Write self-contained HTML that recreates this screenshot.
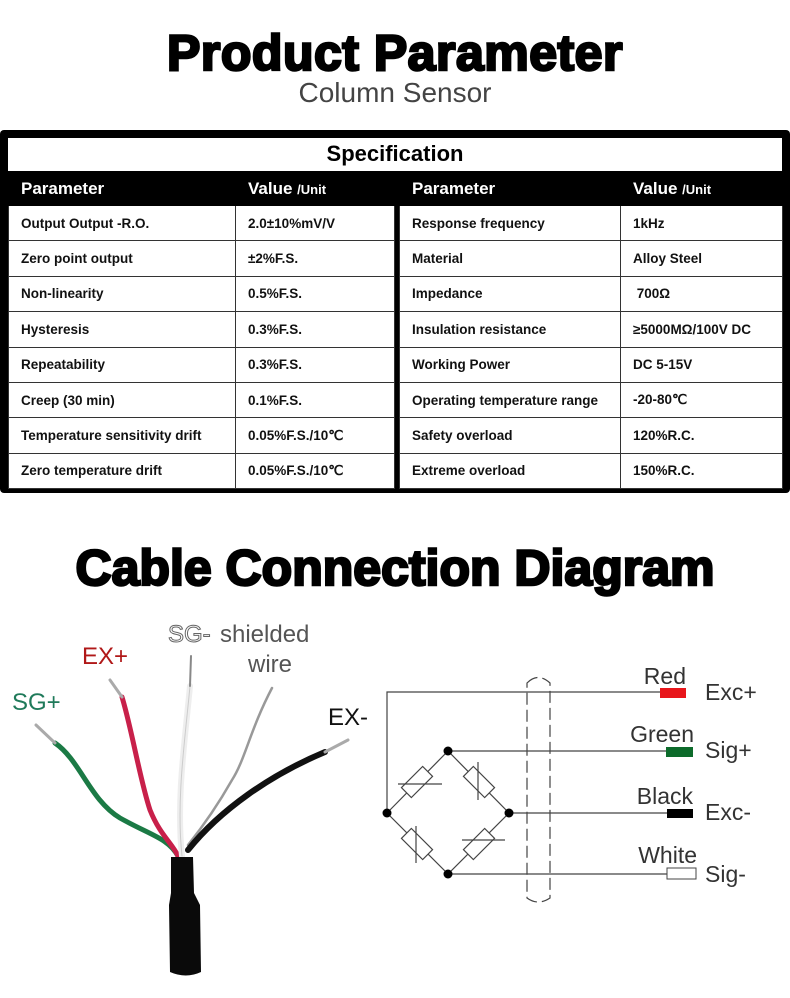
<!DOCTYPE html>
<html><head><meta charset="utf-8"><style>
*{margin:0;padding:0;box-sizing:border-box}
body{width:790px;height:998px;background:#fff;position:relative;overflow:hidden;font-family:"Liberation Sans",sans-serif}
.a{position:absolute}
.t1{left:0;width:790px;text-align:center;font-weight:bold;color:#000;-webkit-text-stroke:2.5px #000;letter-spacing:0}
.tbl{position:absolute;top:171px;border-collapse:collapse;table-layout:fixed}
.tbl td{border:1px solid #333;font-size:13.5px;font-weight:bold;color:#111;padding-left:12px;height:35.4px;white-space:nowrap;background:#fff}
.tbl tr.h td{background:#000;color:#fff;font-size:17px;height:34px;border-color:#000}
.tbl tr.h td small{font-size:13px}
</style></head><body>
<div class="a t1" style="top:24px;font-size:50px;line-height:58px;letter-spacing:0.5px">Product Parameter</div>
<div class="a" style="top:77px;left:0;width:790px;text-align:center;font-size:28px;color:#444">Column Sensor</div>

<div class="a" style="left:0;top:130px;width:790px;height:363px;background:#000;border-radius:4px"></div>
<div class="a" style="left:8px;top:138px;width:774px;height:33px;background:#fff;text-align:center;font-size:22px;font-weight:bold;line-height:32px">Specification</div>

<table class="tbl" style="left:8px;width:386px">
<colgroup><col style="width:227px"><col style="width:159px"></colgroup>
<tr class="h"><td>Parameter</td><td>Value <small>/Unit</small></td></tr>
<tr><td>Output Output -R.O.</td><td>2.0±10%mV/V</td></tr>
<tr><td>Zero point output</td><td>±2%F.S.</td></tr>
<tr><td>Non-linearity</td><td>0.5%F.S.</td></tr>
<tr><td>Hysteresis</td><td>0.3%F.S.</td></tr>
<tr><td>Repeatability</td><td>0.3%F.S.</td></tr>
<tr><td>Creep (30 min)</td><td>0.1%F.S.</td></tr>
<tr><td>Temperature sensitivity drift</td><td>0.05%F.S./10℃</td></tr>
<tr><td>Zero temperature drift</td><td>0.05%F.S./10℃</td></tr>
</table>
<table class="tbl" style="left:399px;width:383px">
<colgroup><col style="width:221px"><col style="width:162px"></colgroup>
<tr class="h"><td>Parameter</td><td>Value <small>/Unit</small></td></tr>
<tr><td>Response frequency</td><td>1kHz</td></tr>
<tr><td>Material</td><td>Alloy Steel</td></tr>
<tr><td>Impedance</td><td>&nbsp;700Ω</td></tr>
<tr><td>Insulation resistance</td><td>≥5000MΩ/100V DC</td></tr>
<tr><td>Working Power</td><td>DC 5-15V</td></tr>
<tr><td>Operating temperature range</td><td>-20-80℃</td></tr>
<tr><td>Safety overload</td><td>120%R.C.</td></tr>
<tr><td>Extreme overload</td><td>150%R.C.</td></tr>
</table>

<div class="a t1" style="top:538px;font-size:50px;line-height:60px">Cable Connection Diagram</div>

<svg class="a" style="left:0;top:0" width="790" height="998" viewBox="0 0 790 998">
<g font-family="Liberation Sans, DejaVu Sans, sans-serif" font-size="24">
<text x="12" y="710" fill="#1f7a5a">SG+</text>
<text x="82" y="664" fill="#b01818">EX+</text>
<text x="168" y="642" fill="#fff" stroke="#666" stroke-width="1">SG-</text>
<text x="220" y="642" fill="#555">shielded</text>
<text x="248" y="672" fill="#555">wire</text>
<text x="328" y="725" fill="#111">EX-</text>
</g>
<g fill="none" stroke-linecap="round">
<path d="M55,743 C80,760 90,800 120,818 C150,835 168,838 178,856" stroke="#1b7a45" stroke-width="5"/>
<path d="M122,697 C132,730 140,780 150,810 C160,835 172,843 178,856" stroke="#c8204a" stroke-width="5"/>
<path d="M190,686 C185,740 176,800 182,856" stroke="#eee" stroke-width="6"/>
<path d="M190,686 C185,740 176,800 182,856" stroke="#ccc" stroke-width="1"/>
<path d="M272,688 C250,730 245,760 232,780 C215,810 200,830 188,845" stroke="#999" stroke-width="2.5"/>
<path d="M325,752 C270,775 220,810 188,850" stroke="#111" stroke-width="6"/>
<path d="M36,725 L55,743" stroke="#aaa" stroke-width="3"/>
<path d="M110,680 L122,697" stroke="#aaa" stroke-width="3"/>
<path d="M191,656 L190,686" stroke="#888" stroke-width="2"/>
<path d="M325,752 L348,740" stroke="#aaa" stroke-width="3"/>
</g>
<path d="M171,857 L193,857 L194,893 L200,905 L201,972 Q186,979 170,972 L169,905 L171,893 Z" fill="#0a0a0a"/>

<g stroke="#444" stroke-width="1.2" fill="none">
<path d="M387,813 L387,692 L660,692"/>
<path d="M448,751 L666,751"/>
<path d="M509,813 L667,813"/>
<path d="M448,874 L667,874"/>
<path d="M387,813 L448,751 L509,813 L448,874 Z"/>
<path d="M527,683 Q538,672 550,683 L550,898 Q538,906 527,898 Z" stroke-dasharray="12,5"/>
</g>
<g stroke="#444" stroke-width="1.2" fill="#fff">
<rect x="-15" y="-7" width="30" height="14" transform="translate(417,782) rotate(-45)"/>
<rect x="-15" y="-7" width="30" height="14" transform="translate(479,782) rotate(45)"/>
<rect x="-15" y="-7" width="30" height="14" transform="translate(417,844) rotate(45)"/>
<rect x="-15" y="-7" width="30" height="14" transform="translate(479,844) rotate(-45)"/>
</g>
<g stroke="#444" stroke-width="1.2">
<line x1="398" y1="784" x2="442" y2="784"/>
<line x1="478" y1="762" x2="478" y2="800"/>
<line x1="416" y1="826" x2="416" y2="863"/>
<line x1="462" y1="840" x2="505" y2="840"/>
</g>
<g fill="#000"><circle cx="387" cy="813" r="4.5"/><circle cx="448" cy="751" r="4.5"/><circle cx="509" cy="813" r="4.5"/><circle cx="448" cy="874" r="4.5"/></g>
<rect x="660" y="688" width="26" height="10" fill="#e8161b"/>
<rect x="666" y="747" width="27" height="10" fill="#0d6b2b"/>
<rect x="667" y="809" width="26" height="9" fill="#000"/>
<rect x="667" y="868" width="29" height="11" fill="#fff" stroke="#444"/>
<g font-family="Liberation Sans, DejaVu Sans, sans-serif" font-size="23" fill="#333">
<text x="686" y="684" text-anchor="end">Red</text>
<text x="694" y="742" text-anchor="end">Green</text>
<text x="693" y="804" text-anchor="end">Black</text>
<text x="697" y="863" text-anchor="end">White</text>
<text x="705" y="700">Exc+</text>
<text x="705" y="758">Sig+</text>
<text x="705" y="820">Exc-</text>
<text x="705" y="882">Sig-</text>
</g>
</svg>
</body></html>
